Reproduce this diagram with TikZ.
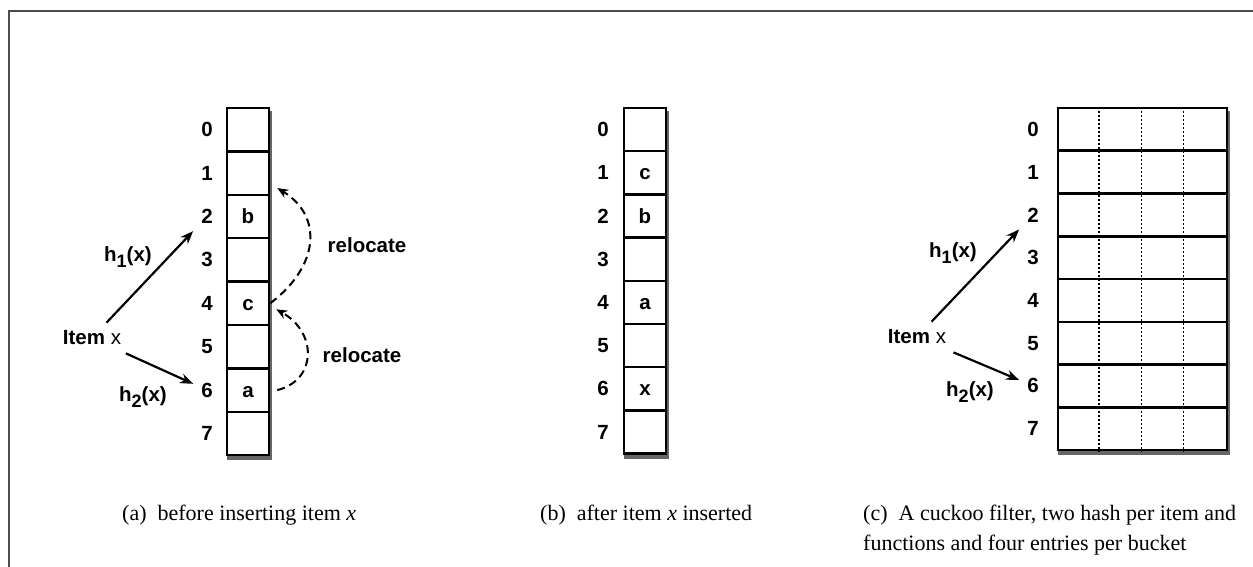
\documentclass[tikz,border=0pt]{standalone}
\usepackage{fontspec}
\setmainfont{Liberation Serif}
\newfontfamily\lblfont{Liberation Sans}
\usetikzlibrary{arrows.meta,shadows,fit,backgrounds}
\begin{document}
\begin{tikzpicture}[x=1pt,y=-1pt,
  lbl/.style={font=\lblfont\bfseries\fontsize{20.5}{24}\selectfont},
  cellbox/.style={draw, line width=2.5pt, fill=white, inner sep=0pt,
    minimum width=42pt, minimum height=43.4pt, lbl, text height=14pt, text depth=0pt},
  widerow/.style={draw, line width=2.5pt, fill=white, inner sep=0pt,
    minimum width=169pt, minimum height=42.75pt},
  idx/.style={lbl, inner sep=8pt},
  arr/.style={line width=2.2pt, -{Stealth[length=13pt,width=10pt]}},
  reloc/.style={line width=2pt, dash pattern=on 8pt off 5pt, -{Stealth[length=11pt,width=9pt]}},
  slotline/.style={line width=1.5pt, dash pattern=on 2.5pt off 1.5pt},
  captext/.style={font=\fontsize{22}{26}\selectfont, anchor=base west, inner sep=0pt},
  shadowbox/.style={fill=white, inner sep=0pt, drop shadow={shadow xshift=1.5pt, shadow yshift=-4pt, fill=black, opacity=.6}}
]
\useasboundingbox (0,0) rectangle (1253,567);
% frame
\draw[line width=2.4pt, black!70] (9,567) -- (9,11) -- (1253,11);

% ---------- (a) ----------
\foreach \i/\t in {0/,1/,2/b,3/,4/c,5/,6/a,7/} {
  \node[cellbox] (ca\i) at (248,{108+43.4*(\i+0.5)}) {\t};
  \node[idx] (la\i) at (207,{108+43.4*(\i+0.5)}) {\i};
}
\begin{scope}[on background layer]
  \node[shadowbox, fit=(ca0)(ca7)] (sha) {};
\end{scope}
\node[idx] (ia) at (92,338) {Item \mdseries x};
\draw[arr] (ia) -- (la2);
\draw[arr] (ia) -- (la6);
\node[lbl] (h1a) at (128,257) {h\raisebox{-6.5pt}{\fontsize{18}{18}\selectfont 1}(x)};
\node[lbl] (h2a) at (143,397) {h\raisebox{-6.5pt}{\fontsize{18}{18}\selectfont 2}(x)};
\draw[reloc] (ca4.east) .. controls +(49,-37) and +(46,28) .. ([shift={(7,-8)}]ca1.south east);
\draw[reloc] ([xshift=7pt]ca6.east) .. controls +(40,-10) and +(41,23) .. ([shift={(6,6)}]ca4.east);
\node[lbl] (r1) at (367,245) {relocate};
\node[lbl] (r2) at (362,355) {relocate};

% ---------- (b) ----------
\foreach \i/\t in {0/,1/c,2/b,3/,4/a,5/,6/x,7/} {
  \node[cellbox, minimum height=43.2pt] (cb\i) at (645,{108+43.2*(\i+0.5)}) {\t};
  \node[idx] (lb\i) at (603,{108+43.2*(\i+0.5)}) {\i};
}
\begin{scope}[on background layer]
  \node[shadowbox, fit=(cb0)(cb7)] (shb) {};
\end{scope}

% ---------- (c) ----------
\foreach \i in {0,...,7} {
  \node[widerow] (cc\i) at (1142.5,{108+42.75*(\i+0.5)}) {};
  \node[idx] (lc\i) at (1033,{108+42.75*(\i+0.5)}) {\i};
}
\foreach \k in {1,2,3} {
  \draw[slotline] ([xshift=\k*42.25pt]cc0.north west) -- ([xshift=\k*42.25pt]cc7.south west);
}
\begin{scope}[on background layer]
  \node[shadowbox, fit=(cc0)(cc7)] (shc) {};
\end{scope}
\node[idx] (ic) at (917,337) {Item \mdseries x};
\draw[arr] (ic) -- (lc2);
\draw[arr] (ic) -- (lc6);
\node[lbl] (h1c) at (953,253) {h\raisebox{-6.5pt}{\fontsize{18}{18}\selectfont 1}(x)};
\node[lbl] (h2c) at (970,392) {h\raisebox{-6.5pt}{\fontsize{18}{18}\selectfont 2}(x)};

% ---------- captions ----------
\node[captext] (capa) at (122,520) {(a)\enspace before inserting item \textit{x}};
\node[captext] (capb) at (540,520) {(b)\enspace after item \textit{x} inserted};
\node[captext] (capc) at (863,520) {(c)\enspace A cuckoo filter, two hash per item and};
\node[captext] (capd) at (863,550) {functions and four entries per bucket};
\end{tikzpicture}
\end{document}
